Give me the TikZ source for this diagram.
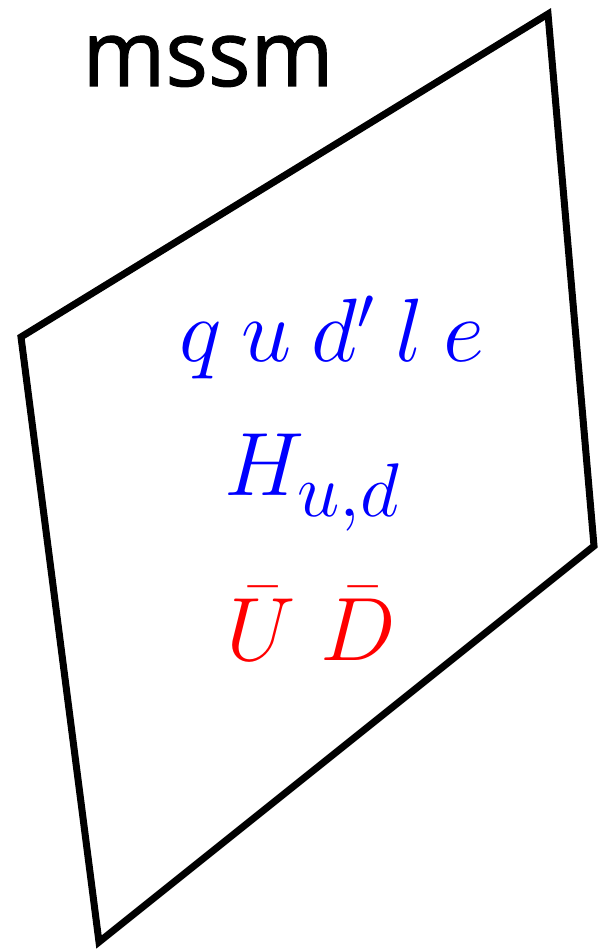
\RequirePackage{fix-cm}
\documentclass[tikz,border=0pt]{standalone}
\usepackage{fontspec}
\newfontfamily\labelfont[FakeBold=1.2]{Open Sans}
\DeclareMathSizes{45}{45}{38}{30}
\begin{document}
\begin{tikzpicture}[x=0.5pt,y=-0.5pt,
  plane/.style={draw=black,line width=3.5pt,line join=miter},
  title/.style={inner sep=0pt,anchor=base west,font=\labelfont\fontsize{46}{50}\selectfont},
  field/.style={inner sep=0pt,anchor=base,font=\fontsize{45}{50}\selectfont}]
\useasboundingbox (0,0) rectangle (598,951);
\coordinate (tr) at (548,14);
\coordinate (l) at (21,337);
\coordinate (b) at (99,942);
\coordinate (r) at (594,546);
\draw[plane] (tr) -- (l) -- (b) -- (r) -- cycle;
\node[title,xscale=0.97] (ttl) at (82,86) {mssm};
\node[field,text=blue] (f1) at (332,362) {$q\:u\:d^{\scriptscriptstyle\prime}\:l\:e$};
\node[field,text=blue] (f2) at (312,495) {$H_{u,d}$};
\node[field,text=red] (f3) at (311,660) {$\bar U\;\bar D$};
\end{tikzpicture}
\end{document}
